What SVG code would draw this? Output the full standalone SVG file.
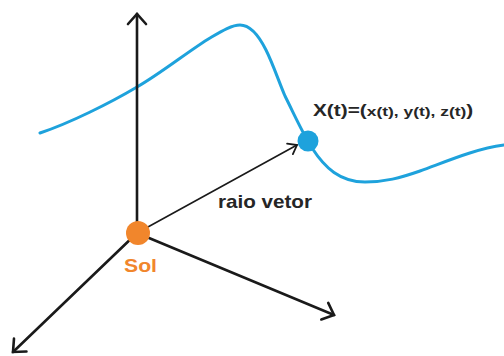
<svg xmlns="http://www.w3.org/2000/svg" width="504" height="356" viewBox="0 0 504 356">
<style>
.axis{fill:none;stroke:#1a1a1a;stroke-width:2.6;stroke-linecap:round}
.vec{fill:none;stroke:#1a1a1a;stroke-width:1.6;stroke-linecap:round}
.orbit{fill:none;stroke:#1ea2dc;stroke-width:3;stroke-linecap:round}
.lbl{font-family:"Liberation Sans",Arial,sans-serif;font-weight:bold;fill:#262626}
</style>
<defs>
<marker id="ah" viewBox="-14 -11 16 22" refX="0" refY="0" markerWidth="16" markerHeight="22" markerUnits="userSpaceOnUse" orient="auto" overflow="visible">
<path d="M-10,-9 L0,0 L-10,9" fill="none" stroke="#1a1a1a" stroke-width="2.6" stroke-linecap="round" stroke-linejoin="miter"/>
</marker>
<marker id="ahs" viewBox="-10 -8 12 16" refX="0" refY="0" markerWidth="12" markerHeight="16" markerUnits="userSpaceOnUse" orient="auto" overflow="visible">
<path d="M-8,-6 L0,0 L-8,6" fill="none" stroke="#1a1a1a" stroke-width="1.8" stroke-linecap="round"/>
</marker>
</defs>
<rect width="504" height="356" fill="#ffffff"/>
<g id="orbit">
<path class="orbit" d="M40,133 C70,123 110,103 137,87 C160,74 190,50 210,38 C222,31 232,25 240,25 C250,25 258,34 266,50 C273,64 279,82 285,96 C295,116 303,134 312,148 C325,168 340,182 365,182 C385,182 400,178 420,171 C450,160 475,149 504,145"/>
</g>
<g id="connectors">
<line class="axis" x1="137" y1="233" x2="137" y2="14" marker-end="url(#ah)"/>
<line class="axis" x1="137" y1="233" x2="13" y2="352" marker-end="url(#ah)"/>
<line class="axis" x1="137" y1="233" x2="334" y2="315" marker-end="url(#ah)"/>
<line class="vec" x1="137" y1="233" x2="297" y2="145" marker-end="url(#ahs)"/>
</g>
<g id="sol">
<circle cx="138" cy="233" r="12" fill="#f1862c"/>
<text x="124" y="272" font-size="18.5" textLength="33" lengthAdjust="spacingAndGlyphs" font-family="Liberation Sans, Arial, sans-serif" font-weight="bold" fill="#f1862c">Sol</text>
</g>
<g id="point">
<circle cx="308" cy="141" r="10.5" fill="#1ea2dc"/>
<text class="lbl" transform="translate(313,116) scale(1.3,1)"><tspan font-size="16">X(t)=(</tspan><tspan font-size="13.4">x(t), y(t), z(t)</tspan><tspan font-size="16">)</tspan></text>
</g>
<g id="raio-label">
<text class="lbl" x="218" y="208" font-size="19" textLength="94" lengthAdjust="spacingAndGlyphs">raio vetor</text>
</g>
</svg>
